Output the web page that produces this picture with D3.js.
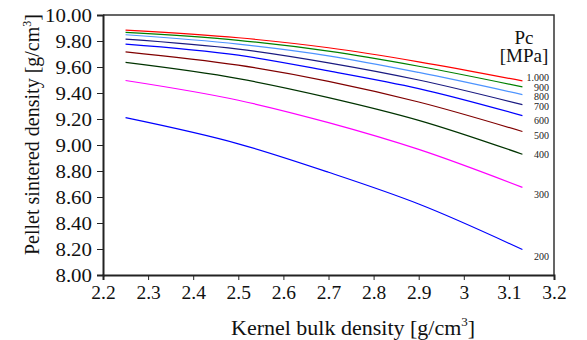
<!DOCTYPE html>
<html>
<head>
<meta charset="utf-8">
<script src="https://cdn.jsdelivr.net/npm/d3@7"></script>
<style>
    body { margin: 0; background: #ffffff; }
</style>
</head>
<body>
<script>
// 数据：横轴取样点（核芯体密度）
const kernelDensity = [2.25, 2.5, 2.7, 2.9, 3.13];
// 压制压力 Pc [MPa]
const pressures = ['1.000', '900', '800', '700', '600', '500', '400', '300', '200'];
// 各压力下的烧结密度
const series1000 = [9.884, 9.825, 9.748, 9.640, 9.493];
const series900 = [9.866, 9.805, 9.722, 9.606, 9.447];
const series800 = [9.848, 9.776, 9.686, 9.558, 9.388];
const series700 = [9.815, 9.738, 9.632, 9.500, 9.310];
const series600 = [9.776, 9.691, 9.570, 9.434, 9.226];
const series500 = [9.717, 9.614, 9.490, 9.331, 9.104];
const series400 = [9.635, 9.511, 9.365, 9.190, 8.929];
const series300 = [9.496, 9.344, 9.172, 8.966, 8.674];
const series200 = [9.210, 9.009, 8.790, 8.546, 8.196];
// 右侧标签所在的密度值
const labelValues = [9.516, 9.442, 9.372, 9.295, 9.189, 9.071, 8.925, 8.623, 8.140];
// 刻度
const xTicks = [2.2, 2.3, 2.4, 2.5, 2.6, 2.7, 2.8, 2.9, 3.0, 3.1, 3.2];
const yTicks = [8.0, 8.2, 8.4, 8.6, 8.8, 9.0, 9.2, 9.4, 9.6, 9.8, 10.0];

const allSeries = [series1000, series900, series800, series700, series600,
    series500, series400, series300, series200];
const colors = ['#ff0000', '#008000', '#4d94ff', '#1a1a80', '#0000ff',
    '#800000', '#003300', '#ff00ff', '#0000ff'];

const width = 587, height = 340;
const margin = {left: 103, right: 33, top: 15, bottom: 65};
const serif = '"Liberation Serif", "Times New Roman", "DejaVu Serif", serif';

const svg = d3.select('body')
    .append('svg')
    .attr('width', width)
    .attr('height', height)
    .attr('font-family', serif);

const x = d3.scaleLinear().domain([2.2, 3.2]).range([margin.left, width - margin.right]);
const y = d3.scaleLinear().domain([8.0, 10.0]).range([height - margin.bottom, margin.top]);

// 外框（上、右）
svg.append('path')
    .attr('d', `M ${x(2.2)} ${y(10)} L ${x(3.2)} ${y(10)} L ${x(3.2)} ${y(8)}`)
    .attr('fill', 'none')
    .attr('stroke', '#333')
    .attr('stroke-width', 1.5);

// 横轴
const xAxis = svg.append('g')
    .attr('transform', `translate(0,${y(8)})`)
    .call(d3.axisBottom(x).tickValues(xTicks).tickSize(5).tickPadding(5)
        .tickFormat(d => d3.format('~g')(d)));
xAxis.attr('font-family', serif);
xAxis.select('.domain').attr('stroke', '#222').attr('stroke-width', 2);
xAxis.selectAll('.tick line').attr('stroke', '#222');
xAxis.selectAll('.tick text')
    .attr('fill', '#111')
    .attr('font-size', 19.5);

// 纵轴
const yAxis = svg.append('g')
    .attr('transform', `translate(${x(2.2)},0)`)
    .call(d3.axisLeft(y).tickValues(yTicks).tickSize(6).tickPadding(5)
        .tickFormat(d3.format('.2f')));
yAxis.attr('font-family', serif);
yAxis.select('.domain').attr('stroke', '#222').attr('stroke-width', 2);
yAxis.selectAll('.tick line').attr('stroke', '#222');
yAxis.selectAll('.tick text')
    .attr('fill', '#111')
    .attr('font-size', 19)
    .attr('x', -11 / 1.1)
    .attr('transform', 'scale(1.1,1)');

// 曲线
const line = d3.line()
    .x((d, i) => x(kernelDensity[i]))
    .y(d => y(d))
    .curve(d3.curveMonotoneX);

svg.append('g')
    .selectAll('path')
    .data(allSeries)
    .join('path')
    .attr('d', d => line(d))
    .attr('fill', 'none')
    .attr('stroke', (d, i) => colors[i])
    .attr('stroke-width', 1.2);

// 曲线标签
svg.append('g')
    .selectAll('text')
    .data(pressures)
    .join('text')
    .attr('x', 549)
    .attr('y', (d, i) => y(labelValues[i]))
    .attr('dy', '0.35em')
    .attr('text-anchor', 'end')
    .attr('font-size', 10)
    .attr('fill', '#222')
    .text(d => d);

// 图例标题
const legendTitle = svg.append('text')
    .attr('text-anchor', 'middle')
    .attr('font-size', 19)
    .attr('fill', '#111');
legendTitle.append('tspan').attr('x', 524).attr('y', 44).text('Pc');
legendTitle.append('tspan').attr('x', 524).attr('y', 62).text('[MPa]');

// 横轴标题
const xTitle = svg.append('text')
    .attr('x', 231)
    .attr('y', 335)
    .attr('font-size', 22)
    .attr('fill', '#111');
xTitle.append('tspan').text('Kernel bulk density [g/cm');
xTitle.append('tspan').attr('dy', -9).attr('font-size', 13).text('3');
xTitle.append('tspan').attr('dy', 9).text(']');

// 纵轴标题
const yTitle = svg.append('text')
    .attr('transform', 'translate(39,255) rotate(-90)')
    .attr('font-size', 20)
    .attr('fill', '#111');
yTitle.append('tspan').text('Pellet sintered density [g/cm');
yTitle.append('tspan').attr('dy', -8).attr('font-size', 12).text('3');
yTitle.append('tspan').attr('dy', 8).text(']');
</script>
</body>
</html>
